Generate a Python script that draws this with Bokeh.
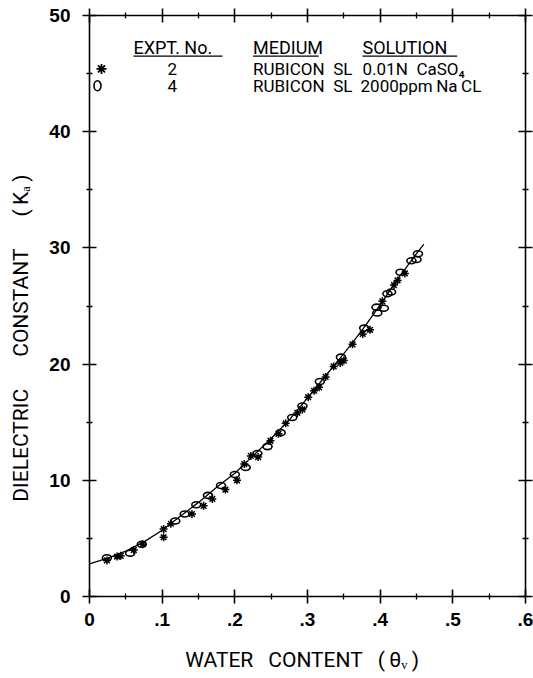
from bokeh.plotting import figure
from bokeh.models import LinearAxis, FixedTicker, ColumnDataSource
from bokeh.core.properties import value
from bokeh.embed import file_html
from bokeh.resources import INLINE

# ---------------- data ----------------
curve_theta = [0.0, 0.025, 0.05, 0.075, 0.1, 0.125, 0.15, 0.175, 0.2, 0.225,
               0.25, 0.275, 0.3, 0.325, 0.35, 0.375, 0.4, 0.425, 0.45, 0.46]
curve_ka = [2.8, 3.3, 3.9, 4.7, 5.7, 6.9, 8.1, 9.4, 10.6, 12.1,
            13.6, 15.2, 17.1, 19.0, 20.9, 22.9, 25.1, 27.4, 29.5, 30.3]

exp2_theta = [0.024, 0.038, 0.043, 0.061, 0.073, 0.102, 0.102, 0.112, 0.141, 0.157,
              0.169, 0.187, 0.203, 0.213, 0.222, 0.232, 0.249, 0.260, 0.270, 0.286,
              0.293, 0.301, 0.309, 0.316, 0.325, 0.336, 0.345, 0.350, 0.362, 0.376,
              0.386, 0.403, 0.419, 0.424, 0.434]
exp2_ka = [3.1, 3.44, 3.5, 4.0, 4.5, 5.8, 5.1, 6.26, 7.1, 7.8,
           8.4, 9.2, 10.0, 11.4, 12.1, 12.0, 13.4, 14.0, 14.9, 15.8,
           16.1, 17.15, 17.7, 18.0, 18.9, 19.8, 20.1, 20.3, 21.7, 22.6,
           22.95, 25.4, 26.8, 27.2, 27.8]

exp4_theta = [0.024, 0.056, 0.072, 0.118, 0.131, 0.147, 0.163, 0.181, 0.200, 0.215,
              0.231, 0.245, 0.263, 0.279, 0.293, 0.317, 0.346, 0.378, 0.395, 0.396,
              0.405, 0.410, 0.415, 0.428, 0.443, 0.450, 0.452]
exp4_ka = [3.33, 3.73, 4.5, 6.5, 7.1, 7.9, 8.7, 9.55, 10.5, 11.1,
           12.3, 12.9, 14.1, 15.4, 16.4, 18.5, 20.6, 23.1, 24.9, 24.4,
           24.8, 26.05, 26.2, 27.9, 28.9, 29.0, 29.5]

x_ticks = [0, 0.1, 0.2, 0.3, 0.4, 0.5, 0.6]
x_tick_labels = ["0", ".1", ".2", ".3", ".4", ".5", ".6"]
x_minor_ticks = [0.05, 0.15, 0.25, 0.35, 0.45, 0.55]
y_ticks = [0, 10, 20, 30, 40, 50]
y_tick_labels = ["0", "10", "20", "30", "40", "50"]
y_minor_ticks = [5, 15, 25, 35, 45]

legend_headers = ["EXPT. No.", "MEDIUM", "SOLUTION"]
legend_expt = ["2", "4"]
legend_medium = ["RUBICON\u2002SL", "RUBICON\u2002SL"]
legend_solution = ["0.01N\u2002CaSO\u2084", "2000ppm\u2009Na\u2009CL"]

# ---------------- figure ----------------
LETTER = "Roboto"
TICKFONT = "'Liberation Sans', Arial, sans-serif"

p = figure(width=533, height=678, x_range=(0, 0.6), y_range=(0, 50),
           output_backend="svg", toolbar_location=None,
           min_border_left=89, min_border_right=8, min_border_top=15,
           min_border_bottom=82, background_fill_color="white",
           border_fill_color="white")
p.outline_line_color = None
p.xgrid.visible = False
p.ygrid.visible = False

xt = FixedTicker(ticks=x_ticks, minor_ticks=x_minor_ticks)
yt = FixedTicker(ticks=y_ticks, minor_ticks=y_minor_ticks)


def style_axis(ax, ticker, labels=None):
    ax.ticker = ticker
    ax.axis_line_color = "black"
    ax.axis_line_width = 1.6
    ax.major_tick_line_color = "black"
    ax.minor_tick_line_color = "black"
    ax.major_tick_line_width = 1.6
    ax.minor_tick_line_width = 1.3
    ax.major_tick_in = 7
    ax.major_tick_out = 7
    ax.minor_tick_in = 3
    ax.minor_tick_out = 3
    if labels is None:
        ax.major_label_text_font_size = "1px"
        ax.major_label_text_color = None
        ax.major_label_standoff = 0
    else:
        ax.major_label_overrides = labels
        ax.major_label_text_font = TICKFONT
        ax.major_label_text_font_style = "bold"
        ax.major_label_text_font_size = "19px"
        ax.major_label_text_color = "black"


xaxis = p.xaxis[0]
yaxis = p.yaxis[0]
style_axis(xaxis, xt, {t: l for t, l in zip(x_ticks, x_tick_labels)})
style_axis(yaxis, yt, {t: l for t, l in zip(y_ticks, y_tick_labels)})
xaxis.major_label_standoff = 9
yaxis.major_label_standoff = 12

xaxis.axis_label = "WATER\u2002\u2009CONTENT\u2002\u2009(\u2009\u03b8\u1d65\u2009)\u2002"
yaxis.axis_label = ("DIELECTRIC\u2003\u2002CONSTANT\u2003\u2002(\u2009K\u2090\u2009)"
                    "\u2003\u2003\u2003")
for ax, so in ((xaxis, 19), (yaxis, 13)):
    ax.axis_label_text_font = LETTER
    ax.axis_label_text_font_style = "normal"
    ax.axis_label_text_font_size = "21px"
    ax.axis_label_text_color = "black"
    ax.axis_label_standoff = so

top_axis = LinearAxis()
right_axis = LinearAxis()
style_axis(top_axis, xt)
style_axis(right_axis, yt)
p.add_layout(top_axis, "above")
p.add_layout(right_axis, "right")

# ---------------- marks ----------------
p.line(curve_theta, curve_ka, line_color="black", line_width=1.3)

src2 = ColumnDataSource(dict(x=exp2_theta, y=exp2_ka))
src4 = ColumnDataSource(dict(x=exp4_theta, y=exp4_ka))
p.scatter("x", "y", source=src2, marker="asterisk", size=8,
          line_color="black", line_width=1.5)
p.ellipse("x", "y", source=src4, width=9, height=6,
          width_units="screen", height_units="screen",
          fill_color=None, line_color="black", line_width=1.6)

# ---------------- legend block (layout positions in data units) ----------------
hdr_y = 47.25
row_y = [45.4, 43.95]
ul_y = 46.5
hdr_x = [0.0605, 0.2250, 0.3757]
hdr_right = [0.1830, 0.3154, 0.5060]
p.text(x=hdr_x, y=[hdr_y] * 3, text=legend_headers,
       text_font=value(LETTER), text_font_size="18px",
       text_baseline="middle", text_align="left", text_color="black")
p.segment(x0=hdr_x, y0=[ul_y] * 3, x1=hdr_right, y1=[ul_y] * 3,
          line_color="black", line_width=1.3)
p.text(x=[0.114, 0.114], y=row_y, text=legend_expt,
       text_font=value(LETTER), text_font_size="17px",
       text_baseline="middle", text_align="center", text_color="black")
p.text(x=[0.225, 0.225], y=row_y, text=legend_medium,
       text_font=value(LETTER), text_font_size="17px",
       text_baseline="middle", text_align="left", text_color="black")
p.text(x=[0.3757, 0.3730], y=row_y, text=legend_solution,
       text_font=value(LETTER), text_font_size="17px",
       text_baseline="middle", text_align="left", text_color="black")
p.scatter([0.0165], [row_y[0]], marker="asterisk", size=10,
          line_color="black", line_width=1.8)
p.ellipse([0.011], [row_y[1]], width=7, height=10,
          width_units="screen", height_units="screen",
          fill_color=None, line_color="black", line_width=1.6)

open("out.html", "w").write(file_html(p, INLINE))
